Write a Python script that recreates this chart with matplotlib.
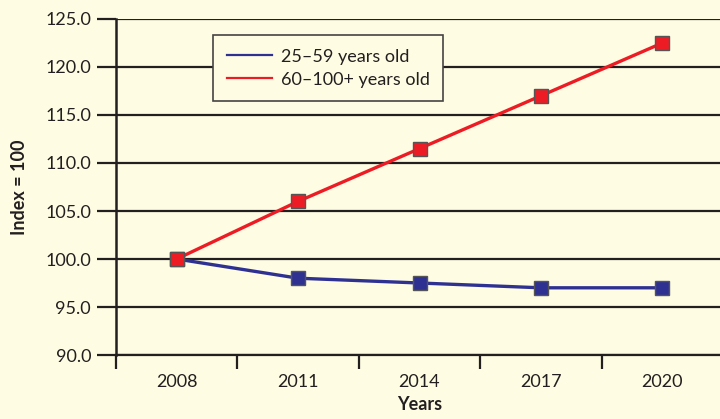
import matplotlib.pyplot as plt
import numpy as np

years = ["2008", "2011", "2014", "2017", "2020"]
young = [100.0, 98.0, 97.5, 97.0, 97.0]
old = [100.0, 106.0, 111.5, 117.0, 122.5]
yticks = [90, 95, 100, 105, 110, 115, 120, 125]

bg = "#fefce2"
ink = "#231f20"
plt.rcParams["font.family"] = ["Lato", "DejaVu Sans"]

fig = plt.figure(figsize=(7.2, 4.19), dpi=100, facecolor=bg)
ax = fig.add_axes([116 / 720, 1 - 355 / 419, 607 / 720, 336 / 419], facecolor=bg)

x = np.arange(len(years))
ax.plot(x, young, color="#2e3192", lw=2.4, marker="s", ms=10,
        mfc="#2e3192", mec="#555555", mew=1, label="25\u201359 years old", zorder=3)
ax.plot(x, old, color="#ed1c24", lw=2.4, marker="s", ms=10,
        mfc="#ed1c24", mec="#555555", mew=1, label="60\u2013100+ years old", zorder=3)

ax.set_xlim(-0.5, len(years) - 0.5)
ax.set_ylim(90, 125)
ax.set_yticks(yticks)
ax.set_yticklabels([f"{v:.1f}" for v in yticks])
ax.set_xticks(x)
ax.set_xticklabels(years)
ax.set_xticks(np.arange(len(years) + 1) - 0.5, minor=True)

for v in yticks:
    ax.axhline(v, color=ink, lw=1.6, zorder=1)
# grid lines poke out left of the axis
ax.tick_params(axis="y", length=14, width=1.6, color=ink, labelsize=13, labelcolor=ink, pad=4)
ax.tick_params(axis="x", which="major", length=0, labelsize=13, labelcolor=ink, pad=14)
ax.tick_params(axis="x", which="minor", length=10, width=1.6, color=ink)

for s in ["top", "right"]:
    ax.spines[s].set_visible(False)
ax.spines["left"].set_color(ink)
ax.spines["left"].set_linewidth(1.8)
ax.spines["bottom"].set_color(ink)
ax.spines["bottom"].set_linewidth(1.6)

ax.set_xlabel("Years", fontsize=13, fontweight="bold", color=ink, labelpad=4)
ax.set_ylabel("Index = 100", fontsize=13, fontweight="bold", color=ink, labelpad=12)

leg = ax.legend(loc="upper left", bbox_to_anchor=(97 / 607, 1 - 16 / 336), fontsize=13,
                frameon=True, fancybox=False, borderaxespad=0, handlelength=2.5,
                borderpad=0.75, labelspacing=0.4, handletextpad=0.5)
leg.get_frame().set_facecolor(bg)
leg.get_frame().set_edgecolor("#444444")
leg.get_frame().set_linewidth(1.2)
leg.get_frame().set_alpha(1)
for h in leg.legend_handles:
    h.set_marker("")
    h.set_linewidth(1.6)
for t in leg.get_texts():
    t.set_color(ink)

fig.savefig("out.png", dpi=100, facecolor=bg)
